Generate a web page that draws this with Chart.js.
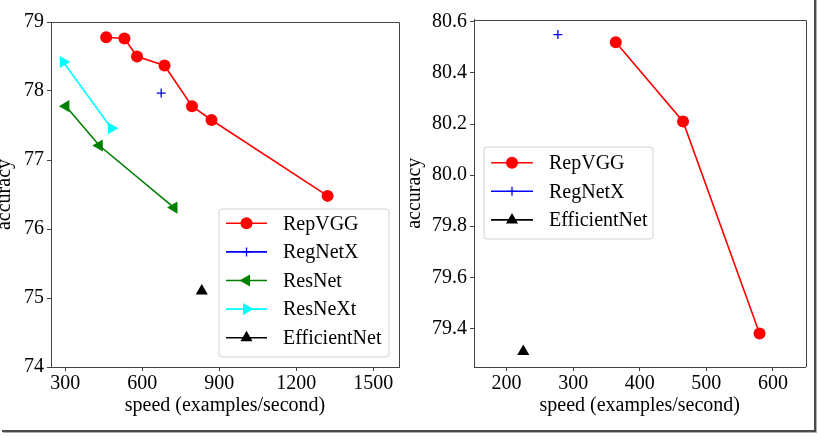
<!DOCTYPE html>
<html><head><meta charset="utf-8">
<script src="https://cdn.jsdelivr.net/npm/chart.js@4.4.0/dist/chart.umd.min.js"></script>
<style>
html,body{margin:0;padding:0;background:#fff;width:818px;height:436px;overflow:hidden;}
#frame{position:absolute;left:2px;top:-4px;width:812px;height:434px;border-right:2px solid #4a4a4a;border-bottom:2px solid #4a4a4a;box-shadow:1px 1px 0 #b0b0b0;}
.c{position:absolute;top:0;}
</style></head><body>
<div id="frame"></div>
<div class="c" style="left:0;width:410px;height:436px"><canvas id="cL" width="410" height="436"></canvas></div>
<div class="c" style="left:410px;width:408px;height:436px"><canvas id="cR" width="408" height="436"></canvas></div>
<script>
// ---------- data (left panel) ----------
const repvggSpeedL = [460, 531, 580, 687, 794, 870, 1322];
const repvggAccL   = [78.78, 78.76, 78.50, 78.37, 77.78, 77.58, 76.48];
const regnetxSpeedL = [674];
const regnetxAccL   = [77.97];
const resnetSpeedL  = [303, 433, 724];
const resnetAccL    = [77.78, 77.21, 76.31];
const resnextSpeedL = [293, 480];
const resnextAccL   = [78.42, 77.46];
const effSpeedL = [832];
const effAccL   = [75.10];
const xTicksL = [300, 600, 900, 1200, 1500];
const yTicksL = [74, 75, 76, 77, 78, 79];
// ---------- data (right panel) ----------
const repvggSpeedR = [364, 465, 580];
const repvggAccR   = [80.52, 80.21, 79.38];
const regnetxSpeedR = [277];
const regnetxAccR   = [80.55];
const effSpeedR = [225];
const effAccR   = [79.31];
const xTicksR = [200, 300, 400, 500, 600];
const yTicksR = [79.4, 79.6, 79.8, 80.0, 80.2, 80.4, 80.6];

const FONT = "'Liberation Serif', 'Times New Roman', serif";
const FS = 20;

function pts(xs, ys){ return xs.map((x,i)=>({x:x, y:ys[i]})); }

const styles = {
  RepVGG:      {color:'#ff0000', pointStyle:'circle',   radius:6, rotation:0,   line:true},
  RegNetX:     {color:'#0000ff', pointStyle:'cross',    radius:4.5, rotation:0, line:true, hollow:true},
  ResNet:      {color:'#008000', pointStyle:'triangle', radius:7, rotation:-90, line:true},
  ResNeXt:     {color:'#00ffff', pointStyle:'triangle', radius:7, rotation:90,  line:true},
  EfficientNet:{color:'#000000', pointStyle:'triangle', radius:7, rotation:0,   line:true}
};

function ds(label, xs, ys){
  const s = styles[label];
  return {
    label: label, data: pts(xs, ys), showLine: true,
    borderColor: s.color, borderWidth: 1.6,
    pointStyle: s.pointStyle, pointRotation: s.rotation, pointRadius: s.radius,
    pointBackgroundColor: s.color, pointBorderColor: s.color,
    pointBorderWidth: s.hollow ? 1.3 : 0, pointHoverRadius: s.radius
  };
}

const frameLegend = {
  id: 'frameLegend',
  afterDatasetsDraw(chart, args, o) {
    const ctx = chart.ctx, a = chart.chartArea;
    ctx.save();
    ctx.strokeStyle = '#444'; ctx.lineWidth = 1;
    ctx.beginPath();
    ctx.moveTo(Math.round(a.left), Math.round(a.top)+0.5);
    ctx.lineTo(Math.round(a.right)+0.5, Math.round(a.top)+0.5);
    ctx.lineTo(Math.round(a.right)+0.5, Math.round(a.bottom));
    ctx.stroke();
    const b = o.box;
    ctx.beginPath();
    const r = 3;
    ctx.moveTo(b.x+r, b.y); ctx.lineTo(b.x+b.w-r, b.y); ctx.arcTo(b.x+b.w, b.y, b.x+b.w, b.y+r, r);
    ctx.lineTo(b.x+b.w, b.y+b.h-r); ctx.arcTo(b.x+b.w, b.y+b.h, b.x+b.w-r, b.y+b.h, r);
    ctx.lineTo(b.x+r, b.y+b.h); ctx.arcTo(b.x, b.y+b.h, b.x, b.y+b.h-r, r);
    ctx.lineTo(b.x, b.y+r); ctx.arcTo(b.x, b.y, b.x+r, b.y, r); ctx.closePath();
    ctx.fillStyle = 'rgba(255,255,255,0.85)'; ctx.fill();
    ctx.strokeStyle = '#d0d0d0'; ctx.lineWidth = 1; ctx.stroke();
    chart.data.datasets.forEach((d, i) => {
      const y = o.row0 + i*o.rowH;
      ctx.strokeStyle = d.borderColor; ctx.lineWidth = d.borderWidth;
      ctx.beginPath(); ctx.moveTo(o.lx1, y); ctx.lineTo(o.lx2, y); ctx.stroke();
      ctx.fillStyle = d.pointBackgroundColor; ctx.strokeStyle = d.pointBorderColor;
      ctx.lineWidth = d.pointBorderWidth || 0;
      const mx = (o.lx1+o.lx2)/2;
      if (Chart.helpers && Chart.helpers.drawPoint) {
        Chart.helpers.drawPoint(ctx, {pointStyle:d.pointStyle, rotation:d.pointRotation, radius:d.pointRadius, borderWidth:d.pointBorderWidth||0}, mx, y);
      } else {
        ctx.beginPath(); ctx.arc(mx, y, d.pointRadius, 0, Math.PI*2); ctx.fill();
      }
      ctx.fillStyle = '#000'; ctx.font = FS + 'px ' + FONT;
      ctx.textBaseline = 'middle'; ctx.textAlign = 'left';
      ctx.fillText(d.label, o.tx, y+1);
    });
    ctx.restore();
  }
};

function makeChart(id, datasets, cfg) {
  return new Chart(document.getElementById(id), {
    type: 'scatter',
    data: { datasets: datasets },
    plugins: [frameLegend],
    options: {
      responsive: false, animation: false, devicePixelRatio: 1,
      layout: { padding: { left: 0, right: cfg.padR, top: cfg.padT, bottom: 0 } },
      plugins: { legend: {display:false}, tooltip: {enabled:false}, frameLegend: cfg.legend },
      scales: {
        x: {
          type: 'linear', min: cfg.xMin, max: cfg.xMax,
          afterBuildTicks: s => { s.ticks = cfg.xTicks.map(v => ({value: v})); },
          afterFit: s => { s.height = 69; },
          grid: {drawOnChartArea:false, drawTicks:true, tickLength:4, tickColor:'#444', tickWidth:1},
          border: {display:true, color:'#444', width:1},
          ticks: {color:'#000', font:{family:FONT, size:FS}, padding:1, maxRotation:0, autoSkip:false,
                  callback: v => String(v)},
          title: {display:true, text:'speed (examples/second)', color:'#000', font:{family:FONT, size:FS}, padding:{top:0, bottom:18}}
        },
        y: {
          type: 'linear', min: cfg.yMin, max: cfg.yMax,
          afterBuildTicks: s => { s.ticks = cfg.yTicks.map(v => ({value: v})); },
          afterFit: s => { s.width = cfg.yW; },
          grid: {drawOnChartArea:false, drawTicks:true, tickLength:4, tickColor:'#444', tickWidth:1},
          border: {display:true, color:'#444', width:1},
          ticks: {color:'#000', font:{family:FONT, size:FS}, padding:3, autoSkip:false,
                  callback: v => v.toFixed(cfg.yDec)},
          title: {display:true, text:'accuracy', color:'#000', font:{family:FONT, size:FS, lineHeight:0.5}, padding:{top:0, bottom:0}}
        }
      }
    }
  });
}

makeChart('cL', [
  ds('RepVGG', repvggSpeedL, repvggAccL),
  ds('RegNetX', regnetxSpeedL, regnetxAccL),
  ds('ResNet', resnetSpeedL, resnetAccL),
  ds('ResNeXt', resnextSpeedL, resnextAccL),
  ds('EfficientNet', effSpeedL, effAccL)
], {
  xMin: 245, xMax: 1600, xTicks: xTicksL, yMin: 74, yMax: 79, yTicks: yTicksL, yDec: 0,
  yW: 51, padR: 11, padT: 22,
  legend: {box:{x:219, y:209, w:170, h:148}, row0:223.3, rowH:28.6, lx1:226, lx2:267, tx:283}
});

makeChart('cR', [
  ds('RepVGG', repvggSpeedR, repvggAccR),
  ds('RegNetX', regnetxSpeedR, regnetxAccR),
  ds('EfficientNet', effSpeedR, effAccR)
], {
  xMin: 151, xMax: 649, xTicks: xTicksR, yMin: 79.249, yMax: 80.609, yTicks: yTicksR, yDec: 1,
  yW: 64, padR: 12.5, padT: 19.5,
  legend: {box:{x:74, y:147, w:169, h:92}, row0:162.7, rowH:28.6, lx1:81, lx2:123, tx:139}
});
</script>
</body></html>
